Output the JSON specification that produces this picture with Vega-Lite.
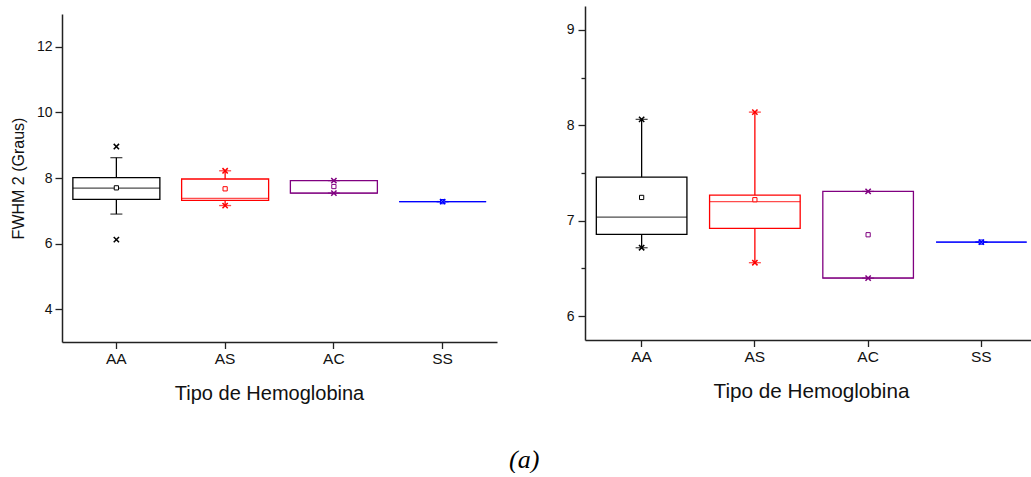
{
  "$schema": "https://vega.github.io/schema/vega-lite/v6.json",
  "background": "white",
  "padding": {"left": 10, "top": 6, "right": 0, "bottom": 0},
  "config": {
    "view": {"stroke": null},
    "font": "Liberation Sans",
    "axis": {"domainColor": "#222222", "domainWidth": 1.5, "tickColor": "#222222", "tickWidth": 1.3, "tickSize": 7, "labelColor": "#111111", "titleColor": "#111111", "labelFont": "Liberation Sans", "titleFont": "Liberation Sans", "titleFontWeight": "normal", "grid": false},
    "axisX": {"labelFontSize": 15.5, "titleFontSize": 20, "labelPadding": 3, "titlePadding": 16, "labelAngle": 0, "tickSize": 6.5},
    "axisY": {"labelFontSize": 14, "titleFontSize": 16, "labelPadding": 3, "titlePadding": 10}
  },
  "title": {"text": "(a)", "orient": "bottom", "anchor": "middle", "font": "Liberation Serif", "fontSize": 26, "fontStyle": "italic", "fontWeight": "normal", "color": "#000000", "offset": 44},
  "datasets": {
    "boxL": [
      {"tipo": "AA", "q1": 7.35, "med": 7.69, "q3": 8.01, "mean": 7.70, "wlo": 6.90, "whi": 8.62},
      {"tipo": "AS", "q1": 7.32, "med": 7.38, "q3": 7.97, "mean": 7.67, "wlo": 7.16, "whi": 8.22},
      {"tipo": "AC", "q1": 7.54, "med": 7.54, "q3": 7.92, "mean": 7.74, "wlo": 7.54, "whi": 7.92},
      {"tipo": "SS", "q1": 7.28, "med": 7.28, "q3": 7.28, "mean": 7.28, "wlo": 7.28, "whi": 7.28}
    ],
    "ptsL": [
      {"tipo": "AA", "v": 8.96}, {"tipo": "AA", "v": 6.12},
      {"tipo": "AS", "v": 8.22}, {"tipo": "AS", "v": 7.16},
      {"tipo": "AC", "v": 7.92}, {"tipo": "AC", "v": 7.54},
      {"tipo": "SS", "v": 7.28}
    ],
    "boxR": [
      {"tipo": "AA", "q1": 6.856, "med": 7.038, "q3": 7.457, "mean": 7.244, "wlo": 6.717, "whi": 8.062},
      {"tipo": "AS", "q1": 6.919, "med": 7.199, "q3": 7.268, "mean": 7.22, "wlo": 6.56, "whi": 8.138},
      {"tipo": "AC", "q1": 6.398, "med": 6.40, "q3": 7.307, "mean": 6.853, "wlo": 6.398, "whi": 7.307},
      {"tipo": "SS", "q1": 6.776, "med": 6.776, "q3": 6.776, "mean": 6.776, "wlo": 6.776, "whi": 6.776}
    ],
    "ptsR": [
      {"tipo": "AA", "v": 8.062}, {"tipo": "AA", "v": 6.717},
      {"tipo": "AS", "v": 8.138}, {"tipo": "AS", "v": 6.56},
      {"tipo": "AC", "v": 7.307}, {"tipo": "AC", "v": 6.398},
      {"tipo": "SS", "v": 6.776}
    ]
  },
  "spacing": 69,
  "hconcat": [
    {
      "spacing": 0,
      "vconcat": [
        {"width": 435, "height": 8, "data": {"values": [{"a": 1}]}, "mark": {"type": "point", "opacity": 0}},
        {
          "width": 435,
          "height": 328,
          "encoding": {
            "x": {"field": "tipo", "type": "nominal", "sort": ["AA", "AS", "AC", "SS"], "scale": {"type": "band", "paddingInner": 0, "paddingOuter": 0}, "axis": {"title": "Tipo de Hemoglobina", "titleX": 207}}
          },
          "layer": [
            {"data": {"name": "boxL"}, "mark": {"type": "rule", "strokeWidth": 1.3},
             "encoding": {
               "y": {"field": "q3", "type": "quantitative", "title": "FWHM 2 (Graus)", "scale": {"domain": [3, 13], "nice": false, "zero": false},
                     "axis": {"values": [4, 5, 6, 7, 8, 9, 10, 11, 12, 13], "tickSize": {"condition": {"test": "datum.value % 2 == 1", "value": 4}, "value": 7}, "labelExpr": "datum.value % 2 == 1 ? '' : datum.label"}},
               "y2": {"field": "whi"},
               "color": {"field": "tipo", "type": "nominal", "scale": {"domain": ["AA", "AS", "AC", "SS"], "range": ["#000000", "#FF0000", "#800080", "#0000FF"]}, "legend": null}}},
            {"data": {"name": "boxL"}, "mark": {"type": "rule", "strokeWidth": 1.3},
             "encoding": {"y": {"field": "wlo", "type": "quantitative", "title": "FWHM 2 (Graus)"}, "y2": {"field": "q1"}, "color": {"field": "tipo", "type": "nominal", "legend": null}}},
            {"data": {"name": "boxL"}, "mark": {"type": "tick", "size": 12, "thickness": 1.3},
             "encoding": {"y": {"field": "whi", "type": "quantitative", "title": "FWHM 2 (Graus)"}, "color": {"field": "tipo", "type": "nominal", "legend": null}}},
            {"data": {"name": "boxL"}, "mark": {"type": "tick", "size": 12, "thickness": 1.3},
             "encoding": {"y": {"field": "wlo", "type": "quantitative", "title": "FWHM 2 (Graus)"}, "color": {"field": "tipo", "type": "nominal", "legend": null}}},
            {"data": {"name": "boxL"}, "mark": {"type": "bar", "width": {"band": 0.8}, "fill": "white", "fillOpacity": 0, "strokeWidth": 1.3},
             "encoding": {"y": {"field": "q1", "type": "quantitative", "title": "FWHM 2 (Graus)"}, "y2": {"field": "q3"}, "stroke": {"field": "tipo", "type": "nominal", "scale": {"domain": ["AA", "AS", "AC", "SS"], "range": ["#000000", "#FF0000", "#800080", "#0000FF"]}, "legend": null}}},
            {"data": {"name": "boxL"}, "mark": {"type": "tick", "size": 87, "thickness": 1.3},
             "encoding": {"y": {"field": "med", "type": "quantitative", "title": "FWHM 2 (Graus)"}, "color": {"field": "tipo", "type": "nominal", "legend": null}}},
            {"data": {"name": "boxL"}, "mark": {"type": "point", "shape": "square", "size": 18, "filled": false, "fill": "white", "fillOpacity": 1, "strokeWidth": 1, "opacity": 1},
             "encoding": {"y": {"field": "mean", "type": "quantitative", "title": "FWHM 2 (Graus)"}, "color": {"field": "tipo", "type": "nominal", "legend": null}}},
            {"data": {"name": "ptsL"}, "mark": {"type": "point", "shape": "M-1,-1L1,1M-1,1L1,-1", "size": 28, "filled": false, "strokeWidth": 1.5, "opacity": 1},
             "encoding": {"y": {"field": "v", "type": "quantitative", "title": "FWHM 2 (Graus)"}, "color": {"field": "tipo", "type": "nominal", "legend": null}}}
          ]
        }
      ]
    },
    {
      "width": 453,
      "height": 334,
      "encoding": {
        "x": {"field": "tipo", "type": "nominal", "sort": ["AA", "AS", "AC", "SS"], "scale": {"type": "band", "paddingInner": 0, "paddingOuter": 0}, "axis": {"title": "Tipo de Hemoglobina", "titleFontSize": 20.7, "titleX": 226}}
      },
      "layer": [
        {"data": {"name": "boxR"}, "mark": {"type": "rule", "strokeWidth": 1.3},
         "encoding": {
           "y": {"field": "q3", "type": "quantitative", "title": null, "scale": {"domain": [5.75, 9.25], "nice": false, "zero": false},
                 "axis": {"values": [6, 6.5, 7, 7.5, 8, 8.5, 9], "tickSize": {"condition": {"test": "datum.value % 1 != 0", "value": 4}, "value": 7}, "labelExpr": "datum.value % 1 != 0 ? '' : format(datum.value, 'd')", "labelPadding": 4}},
           "y2": {"field": "whi"},
           "color": {"field": "tipo", "type": "nominal", "scale": {"domain": ["AA", "AS", "AC", "SS"], "range": ["#000000", "#FF0000", "#800080", "#0000FF"]}, "legend": null}}},
        {"data": {"name": "boxR"}, "mark": {"type": "rule", "strokeWidth": 1.3},
         "encoding": {"y": {"field": "wlo", "type": "quantitative", "title": null}, "y2": {"field": "q1"}, "color": {"field": "tipo", "type": "nominal", "legend": null}}},
        {"data": {"name": "boxR"}, "mark": {"type": "tick", "size": 12, "thickness": 1.3},
         "encoding": {"y": {"field": "whi", "type": "quantitative", "title": null}, "color": {"field": "tipo", "type": "nominal", "legend": null}}},
        {"data": {"name": "boxR"}, "mark": {"type": "tick", "size": 12, "thickness": 1.3},
         "encoding": {"y": {"field": "wlo", "type": "quantitative", "title": null}, "color": {"field": "tipo", "type": "nominal", "legend": null}}},
        {"data": {"name": "boxR"}, "mark": {"type": "bar", "width": {"band": 0.8}, "fill": "white", "fillOpacity": 0, "strokeWidth": 1.3},
         "encoding": {"y": {"field": "q1", "type": "quantitative", "title": null}, "y2": {"field": "q3"}, "stroke": {"field": "tipo", "type": "nominal", "scale": {"domain": ["AA", "AS", "AC", "SS"], "range": ["#000000", "#FF0000", "#800080", "#0000FF"]}, "legend": null}}},
        {"data": {"name": "boxR"}, "mark": {"type": "tick", "size": 90.7, "thickness": 1.3},
         "encoding": {"y": {"field": "med", "type": "quantitative", "title": null}, "color": {"field": "tipo", "type": "nominal", "legend": null}}},
        {"data": {"name": "boxR"}, "mark": {"type": "point", "shape": "square", "size": 18, "filled": false, "fill": "white", "fillOpacity": 1, "strokeWidth": 1, "opacity": 1},
         "encoding": {"y": {"field": "mean", "type": "quantitative", "title": null}, "color": {"field": "tipo", "type": "nominal", "legend": null}}},
        {"data": {"name": "ptsR"}, "mark": {"type": "point", "shape": "M-1,-1L1,1M-1,1L1,-1", "size": 28, "filled": false, "strokeWidth": 1.5, "opacity": 1},
         "encoding": {"y": {"field": "v", "type": "quantitative", "title": null}, "color": {"field": "tipo", "type": "nominal", "legend": null}}}
      ]
    }
  ]
}
